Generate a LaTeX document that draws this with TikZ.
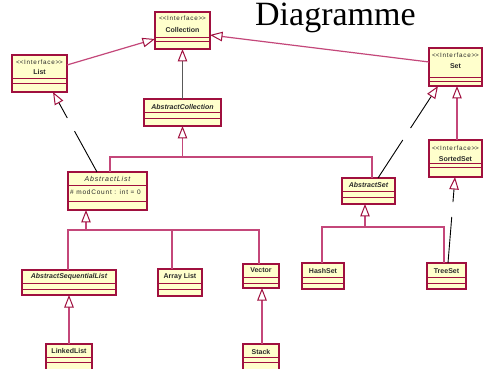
\documentclass[tikz,border=0pt]{standalone}
\usepackage{fontspec}
\usetikzlibrary{arrows.meta,calc}
\newfontfamily\umlfont{Liberation Sans}
\newfontfamily\umlstereo[LetterSpace=12]{Liberation Sans}
\newfontfamily\umlattr[LetterSpace=12]{Liberation Sans}
\newfontfamily\titlefont{Liberation Serif}
\definecolor{umlborder}{HTML}{A0103F}
\definecolor{umlline}{HTML}{C4477A}
\definecolor{umlfill}{HTML}{FFFFCC}
\definecolor{umltext}{HTML}{2A2A2A}
\tikzset{
  classbox/.style={draw=umlborder, fill=umlfill, line width=1.5pt, inner sep=0pt, outer sep=0pt, anchor=north west},
  compsep/.style={draw=umlborder, line width=1pt},
  stereo/.style={font=\umlstereo\fontsize{6.3}{7}\selectfont, inner sep=0pt, text=umltext},
  cname/.style={font=\umlfont\bfseries\fontsize{7}{8}\selectfont, inner sep=0pt, text=umltext},
  aname/.style={font=\umlfont\bfseries\itshape\fontsize{7}{8}\selectfont, inner sep=0pt, text=umltext},
  attr/.style={font=\umlattr\fontsize{6.5}{7}\selectfont, inner sep=0pt, text=umltext, anchor=west},
  gentip/.style={-{Triangle[width=9.5pt,length=12.5pt,fill=white,color=umlborder,line width=1pt]}},
  treeline/.style={draw=umlline, line width=1.2pt},
  blackline/.style={draw=black, line width=0.9pt},
  grayline/.style={draw=black!65, line width=1.5pt},
}
\newcommand\umlbox[7]{%
  \node[classbox, minimum width={(#4-#2)*1pt}, minimum height={(#5-#3)*1pt}] (#1) at (#2,#3) {};
  \draw[compsep] (#2,#6) -- (#4,#6);
  \draw[compsep] (#2,#7) -- (#4,#7);}
\begin{document}
\begin{tikzpicture}[x=1pt,y=-1pt]
\useasboundingbox (0,0) rectangle (483,369);
\fill[white] (0,0) rectangle (483,369);

% title
\node[font=\titlefont\fontsize{34}{40}\selectfont, inner sep=0pt, anchor=base west] (title) at (255,26) {Diagramme};

% boxes
\umlbox{coll}{155}{12}{210}{49}{38}{42}
\node[stereo] (coll-s) at (182.5,18) {<\kern0pt<Interface>\kern0pt>};
\node[cname] (coll-n) at (182.5,30) {Collection};

\umlbox{lst}{12}{55}{67}{92}{79}{84}
\node[stereo] (lst-s) at (39.5,62) {<\kern0pt<Interface>\kern0pt>};
\node[cname] (lst-n) at (39.5,72) {List};

\umlbox{set}{429}{48}{482}{86}{78}{82}
\node[stereo] (set-s) at (455.5,55) {<\kern0pt<Interface>\kern0pt>};
\node[cname] (set-n) at (455.5,66) {Set};

\umlbox{ss}{429}{140}{482}{177}{164}{168}
\node[stereo] (ss-s) at (455.5,148) {<\kern0pt<Interface>\kern0pt>};
\node[cname] (ss-n) at (455.5,159) {SortedSet};

\umlbox{ac}{144}{99}{221}{126}{113}{119}
\node[aname] (ac-n) at (182.5,107) {AbstractCollection};

\umlbox{al}{68}{172}{147}{210}{186}{202}
\node[font=\umlattr\itshape\fontsize{7}{8}\selectfont, inner sep=0pt, text=umltext] (al-n) at (107.5,179) {AbstractList};
\node[attr] (al-a) at (70,192.5) {\# modCount : int = 0};

\umlbox{as}{342}{178}{395}{204}{192}{198}
\node[aname] (as-n) at (368.5,185) {AbstractSet};

\umlbox{asl}{22}{270}{116}{295}{283}{289}
\node[aname] (asl-n) at (69,277) {AbstractSequentialList};

\umlbox{arl}{158}{269}{202}{296}{283}{289}
\node[cname] (arl-n) at (180,277) {Array List};

\umlbox{vec}{243}{264}{279}{288}{278}{283}
\node[cname] (vec-n) at (261,270.5) {Vector};

\umlbox{hs}{302}{263}{344}{289}{278}{283}
\node[cname] (hs-n) at (323,271) {HashSet};

\umlbox{ts}{427}{263}{466}{289}{278}{283}
\node[cname] (ts-n) at (446.5,271) {TreeSet};

\umlbox{ll}{46}{344}{92}{372}{357}{362}
\node[cname] (ll-n) at (69,351) {LinkedList};

\umlbox{stk}{243}{344}{279}{372}{357}{362}
\node[cname] (stk-n) at (261,352) {Stack};

% interface generalisations
\draw[treeline, gentip] ([yshift=-10pt]lst.north east) -- ([yshift=-27pt]coll.north west);
\draw[treeline, gentip] ([yshift=-14pt]set.north west) -- ([yshift=-23pt]coll.north east);
\draw[grayline, gentip] (ac.north) -- (coll.south);
\draw[treeline, gentip] ([xshift=28pt]ss.north west) -- ([xshift=28pt]set.south west);

% realisations with a gap
\coordinate (alsrc) at ([xshift=29pt]al.north west);
\coordinate (lsttgt) at ([xshift=41pt]lst.south west);
\draw[blackline] (alsrc) -- ($(alsrc)!0.51!(lsttgt)$);
\draw[blackline, gentip] ($(alsrc)!0.675!(lsttgt)$) -- (lsttgt);

\coordinate (assrc) at ([xshift=36pt]as.north west);
\coordinate (settgt) at ([xshift=9pt]set.south west);
\draw[blackline] (assrc) -- ($(assrc)!0.413!(settgt)$);
\draw[blackline, gentip] ($(assrc)!0.543!(settgt)$) -- (settgt);

\coordinate (tssrc) at ([xshift=21pt]ts.north west);
\coordinate (sstgt) at ([xshift=26pt]ss.south west);
\draw[blackline] (tssrc) -- ($(tssrc)!0.535!(sstgt)$);
\draw[blackline, gentip] ($(tssrc)!0.709!(sstgt)$) -- (sstgt);

% AbstractCollection tree
\coordinate (j1) at ($(ac.south)+(0,31)$);
\draw[treeline] ([xshift=42pt]al.north west) |- (j1) -| ([xshift=30pt]as.north west);
\draw[treeline, gentip] (j1) -- (ac.south);

% AbstractList tree
\coordinate (altip) at ([xshift=18pt]al.south west);
\coordinate (j2) at ($(altip)+(0,20)$);
\draw[treeline] ([xshift=46pt]asl.north west) |- (j2) -| ([xshift=16pt]vec.north west);
\draw[treeline] ([xshift=14pt]arl.north west) -- ([xshift=14pt]arl.north west |- j2);
\draw[treeline, gentip] (j2) -- (altip);

% AbstractSet tree
\coordinate (astip) at ([xshift=23pt]as.south west);
\coordinate (j3) at ($(astip)+(0,23)$);
\draw[treeline] ([xshift=20pt]hs.north west) |- (j3) -| ([xshift=17pt]ts.north west);
\draw[treeline, gentip] (j3) -- (astip);

% single generalisations
\draw[treeline, gentip] ([xshift=23pt]ll.north west) -- ([xshift=47pt]asl.south west);
\draw[treeline, gentip] ([xshift=19pt]stk.north west) -- ([xshift=19pt]vec.south west);
\end{tikzpicture}
\end{document}
